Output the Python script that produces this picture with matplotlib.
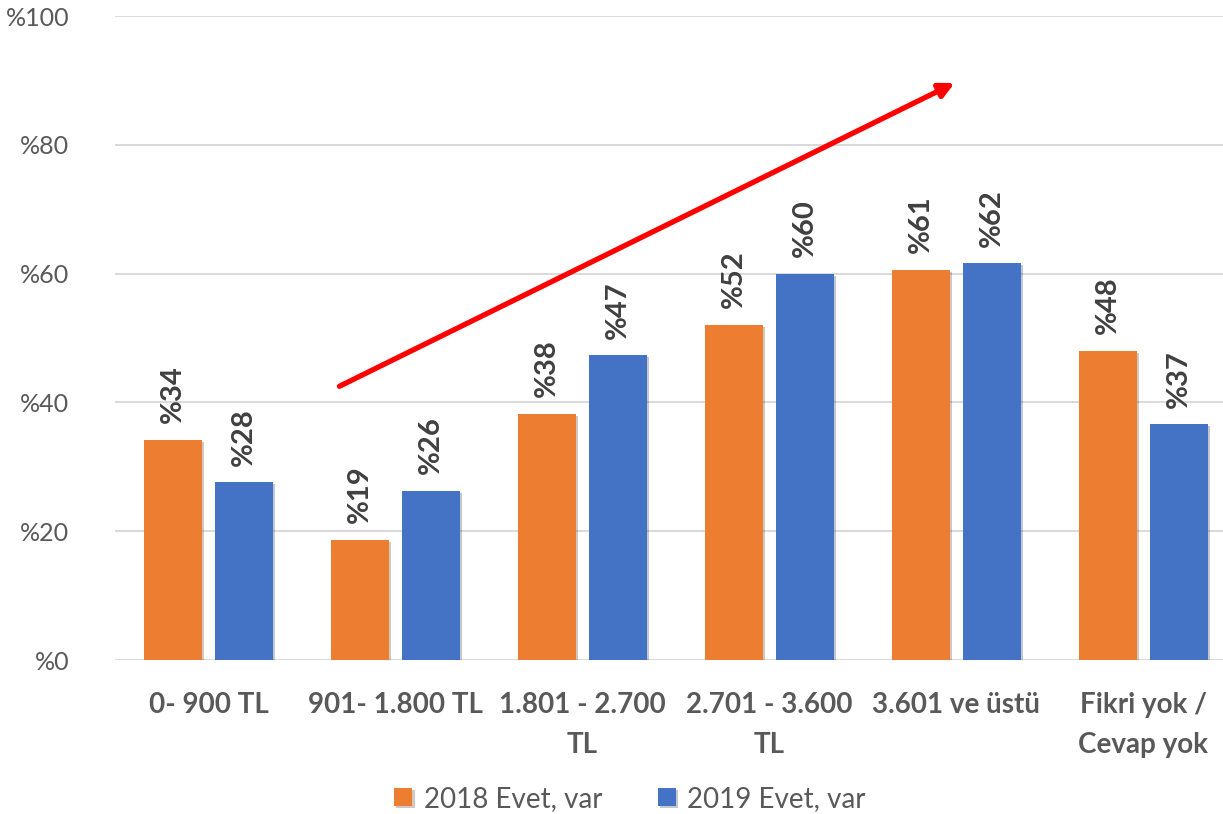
import numpy as np
import matplotlib
matplotlib.use("Agg")
import matplotlib.pyplot as plt
import matplotlib.patheffects as pe

# veriler
kategoriler = ['0- 900 TL', '901- 1.800 TL', '1.801 - 2.700\nTL',
               '2.701 - 3.600\nTL', '3.601 ve üstü', 'Fikri yok /\nCevap yok']
evet_2018 = [34.2, 18.7, 38.2, 52.0, 60.6, 48.0]
evet_2019 = [27.6, 26.3, 47.3, 60.0, 61.6, 36.6]
seriler = ['2018 Evet, var', '2019 Evet, var']
y_ticks = [0, 20, 40, 60, 80, 100]

# ok (artis trendi) baslangic / bitis
ok_bas = (0.70, 42.5)
ok_son = (3.99, 89.6)

plt.rcParams['font.family'] = ['Lato', 'DejaVu Sans']

turuncu = '#ED7D31'
mavi = '#4472C4'
gri = '#595959'

fig = plt.figure(figsize=(12.23, 8.14), dpi=100)
ax = fig.add_axes([115/1223, 1 - 660/814, 1 - 115/1223, 644/814])

x = np.arange(len(kategoriler))
w = 0.31
golge = [pe.SimplePatchShadow(offset=(1.5, -1.5), alpha=0.25), pe.Normal()]
b1 = ax.bar(x - 0.19, evet_2018, w, color=turuncu, label=seriler[0], zorder=3)
b2 = ax.bar(x + 0.19, evet_2019, w, color=mavi, label=seriler[1], zorder=3)
for bars in (b1, b2):
    for b in bars:
        b.set_path_effects(golge)
        ax.annotate('%{:.0f}'.format(b.get_height()),
                    (b.get_x() + b.get_width() / 2, b.get_height()),
                    xytext=(0, 12), textcoords='offset points',
                    rotation=90, ha='center', va='bottom',
                    fontsize=21, fontweight='bold', color='#404040')

ax.annotate('', xy=ok_son, xytext=ok_bas,
            arrowprops=dict(arrowstyle='-|>', color='#FF0000', lw=3.8,
                            mutation_scale=22, shrinkA=0, shrinkB=0),
            zorder=5)

ax.set_xlim(-0.5, -0.5 + (1223 - 115) / 187)
ax.set_ylim(0, 100)
ax.set_yticks(y_ticks)
ax.set_yticklabels(['%{}'.format(t) for t in y_ticks], fontsize=18, color=gri)
ax.set_xticks(x)
ax.set_xticklabels(kategoriler, fontsize=20, fontweight='bold', color=gri,
                   linespacing=1.65)
ax.tick_params(axis='x', length=0, pad=23)
ax.tick_params(axis='y', length=0, pad=33)
ax.grid(axis='y', color='#D9D9D9', lw=1.4, zorder=0)
for s in ax.spines.values():
    s.set_visible(False)

fig.legend(loc='lower center', bbox_to_anchor=(0.515, -0.028), ncol=2,
           frameon=False, fontsize=20, labelcolor=gri, handlelength=0.65,
           handleheight=0.65, handletextpad=0.4, columnspacing=2.0)

fig.savefig('out.png', dpi=100)
